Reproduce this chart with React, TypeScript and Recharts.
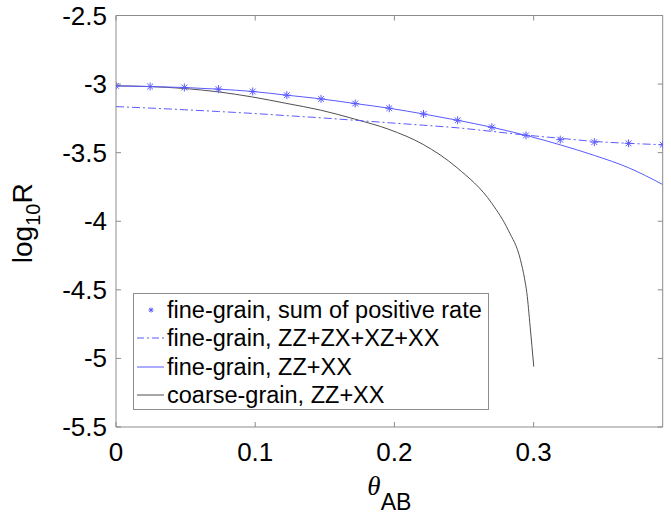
import React from 'react';
import { LineChart, Line, XAxis, YAxis, Legend } from 'recharts';

const thetaGrid = [0, 0.0245, 0.0491, 0.0736, 0.0982, 0.1227, 0.1473, 0.1718, 0.1963, 0.2209, 0.2454, 0.27, 0.2945, 0.3191, 0.3436, 0.3682, 0.3927];
const sumPositive = [-3.013, -3.018, -3.025, -3.037, -3.054, -3.081, -3.108, -3.142, -3.176, -3.218, -3.264, -3.315, -3.374, -3.405, -3.423, -3.432, -3.442];
const fineAll = [-3.164, -3.175, -3.187, -3.2, -3.214, -3.23, -3.246, -3.264, -3.282, -3.3, -3.319, -3.345, -3.372, -3.395, -3.418, -3.432, -3.442];
const fineZZXX = [-3.013, -3.018, -3.025, -3.037, -3.054, -3.081, -3.108, -3.142, -3.176, -3.218, -3.264, -3.315, -3.374, -3.443, -3.52, -3.61, -3.732];

const coarseTheta = [0, 0.024, 0.049, 0.0736, 0.098, 0.122, 0.147, 0.1714, 0.196, 0.2206, 0.245, 0.27, 0.282, 0.2905, 0.2935, 0.2951, 0.2975, 0.3001];
const coarseZZXX = [-3.013, -3.018, -3.032, -3.057, -3.094, -3.14, -3.19, -3.255, -3.33, -3.44, -3.61, -3.87, -4.07, -4.28, -4.42, -4.521, -4.77, -5.06];

const xTicks = [0, 0.1, 0.2, 0.3];
const yTicks = [-5.5, -5, -4.5, -4, -3.5, -3, -2.5];
const xDomain = [0, 0.3927];
const yDomain = [-5.5, -2.5];

const legendLabels = [
  'fine-grain, sum of positive rate',
  'fine-grain, ZZ+ZX+XZ+XX',
  'fine-grain, ZZ+XX',
  'coarse-grain, ZZ+XX',
];

const fineData = thetaGrid.map((x, i) => ({ x, sum: sumPositive[i], all: fineAll[i], zzxx: fineZZXX[i] }));
const coarseData = coarseTheta.map((x, i) => ({ x, coarse: coarseZZXX[i] }));

const FONT = '"Liberation Sans", Arial, Helvetica, sans-serif';
const AXIS_COLOR = '#8c8c8c';
const BLUE = '#5a5aff';
const BLACK_LINE = '#505050';
const TICK_LEN = 5;
const TICK_FONT = 26;
const BOTTOM_MARGIN = 16;

const LeftTick = (props: any) => {
  const { x, y, payload } = props;
  return (
    <g>
      <text x={x} y={y} textAnchor="end" dominantBaseline="central" fontFamily={FONT} fontSize={TICK_FONT} fill="#000">
        {payload.value}
      </text>
      <line x1={x + 9} x2={x + 9 + TICK_LEN} y1={y} y2={y} stroke={AXIS_COLOR} />
    </g>
  );
};

const BottomTick = (props: any) => {
  const { x, y, payload } = props;
  return (
    <g>
      <text x={x} y={y} dy="0.71em" textAnchor="middle" fontFamily={FONT} fontSize={TICK_FONT} fill="#000">
        {payload.value}
      </text>
      <line x1={x} x2={x} y1={y - BOTTOM_MARGIN} y2={y - BOTTOM_MARGIN - TICK_LEN} stroke={AXIS_COLOR} />
    </g>
  );
};

const TopTick = (props: any) => {
  const { x, y } = props;
  return <line x1={x} x2={x} y1={y} y2={y + TICK_LEN} stroke={AXIS_COLOR} />;
};

const RightTick = (props: any) => {
  const { x, y } = props;
  return <line x1={x} x2={x - TICK_LEN} y1={y} y2={y} stroke={AXIS_COLOR} />;
};

const Star = (props: any) => {
  const { cx, cy, r = 4 } = props;
  if (cx == null || cy == null) return null;
  const d = r * 0.72;
  return (
    <g stroke={BLUE} strokeWidth={1}>
      <line x1={cx - r} x2={cx + r} y1={cy} y2={cy} />
      <line x1={cx} x2={cx} y1={cy - r} y2={cy + r} />
      <line x1={cx - d} x2={cx + d} y1={cy - d} y2={cy + d} />
      <line x1={cx - d} x2={cx + d} y1={cy + d} y2={cy - d} />
    </g>
  );
};

const StarDot = (props: any) => <Star key={`s-${props.index}`} {...props} r={4} />;

const LegendBox = () => (
  <div
    style={{
      width: 356,
      height: 117,
      border: `1px solid ${AXIS_COLOR}`,
      background: '#fff',
      boxSizing: 'border-box',
      fontFamily: FONT,
      fontSize: 23.5,
      color: '#000',
      paddingTop: 2,
    }}
  >
    {legendLabels.map((label, i) => (
      <div key={label} style={{ display: 'flex', alignItems: 'center', height: 28.3, lineHeight: '28px' }}>
        <svg width={33} height={20} style={{ flex: 'none' }}>
          {i === 0 && <Star cx={17} cy={10} r={2.5} />}
          {i === 1 && <line x1={3} x2={30} y1={10} y2={10} stroke={BLUE} strokeDasharray="7 3 2 3" />}
          {i === 2 && <line x1={3} x2={30} y1={10} y2={10} stroke={BLUE} />}
          {i === 3 && <line x1={3} x2={30} y1={10} y2={10} stroke={BLACK_LINE} />}
        </svg>
        <span style={{ whiteSpace: 'nowrap' }}>{label}</span>
      </div>
    ))}
  </div>
);

const YLabel = (props: any) => {
  const { viewBox } = props;
  const cy = viewBox.y + viewBox.height / 2 + 2;
  const cx = 32;
  return (
    <text transform={`translate(${cx},${cy}) rotate(-90)`} textAnchor="middle" fontFamily={FONT} fontSize={28} fill="#000">
      <tspan>log</tspan>
      <tspan fontSize={20} dy={8}>10</tspan>
      <tspan dy={-8}>R</tspan>
    </text>
  );
};

const XLabel = (props: any) => {
  const { viewBox } = props;
  const cx = viewBox.x + viewBox.width / 2;
  const y = 495;
  return (
    <text x={cx} y={y} textAnchor="middle" fill="#000">
      <tspan fontFamily='"Liberation Serif", "Times New Roman", serif' fontStyle="italic" fontSize={27}>θ</tspan>
      <tspan fontFamily={FONT} fontSize={23} dy={15}>AB</tspan>
    </text>
  );
};

export default function App() {
  return (
    <div style={{ position: 'absolute', left: 0, top: 0, background: '#fff' }}>
      <LineChart width={671} height={515} margin={{ top: 14.5, right: 7.3, left: 56, bottom: 58 }}>
        <XAxis
          xAxisId="b"
          type="number"
          dataKey="x"
          domain={xDomain}
          allowDataOverflow
          ticks={xTicks}
          tick={<BottomTick />}
          tickSize={0}
          tickMargin={BOTTOM_MARGIN}
          tickLine={false}
          height={30}
          stroke={AXIS_COLOR}
          interval={0}
          label={<XLabel />}
        />
        <XAxis
          xAxisId="t"
          orientation="top"
          type="number"
          dataKey="x"
          domain={xDomain}
          allowDataOverflow
          ticks={xTicks}
          tick={<TopTick />}
          tickSize={0}
          tickMargin={0}
          tickLine={false}
          height={1}
          stroke={AXIS_COLOR}
          interval={0}
        />
        <YAxis
          yAxisId="l"
          type="number"
          domain={yDomain}
          allowDataOverflow
          ticks={yTicks}
          tick={<LeftTick />}
          tickSize={0}
          tickMargin={9}
          tickLine={false}
          width={60}
          stroke={AXIS_COLOR}
          interval={0}
          label={<YLabel />}
        />
        <YAxis
          yAxisId="r"
          orientation="right"
          type="number"
          domain={yDomain}
          allowDataOverflow
          ticks={yTicks}
          tick={<RightTick />}
          tickSize={0}
          tickMargin={0}
          tickLine={false}
          width={1}
          stroke={AXIS_COLOR}
          interval={0}
        />
        <Legend
          layout="vertical"
          align="center"
          verticalAlign="middle"
          wrapperStyle={{ position: 'absolute', left: 133, top: 293, width: 356, height: 117 }}
          content={<LegendBox />}
        />
        <Line
          xAxisId="b"
          yAxisId="l"
          data={coarseData}
          dataKey="coarse"
          type="monotone"
          stroke={BLACK_LINE}
          strokeWidth={1}
          dot={false}
          isAnimationActive={false}
          name={legendLabels[3]}
        />
        <Line
          xAxisId="b"
          yAxisId="l"
          data={fineData}
          dataKey="all"
          type="monotone"
          stroke={BLUE}
          strokeWidth={1}
          strokeDasharray="8 3 2 3"
          dot={false}
          isAnimationActive={false}
          name={legendLabels[1]}
        />
        <Line
          xAxisId="b"
          yAxisId="l"
          data={fineData}
          dataKey="zzxx"
          type="monotone"
          stroke={BLUE}
          strokeWidth={1}
          dot={false}
          isAnimationActive={false}
          name={legendLabels[2]}
        />
        <Line
          xAxisId="b"
          yAxisId="l"
          data={fineData}
          dataKey="sum"
          stroke="none"
          dot={<StarDot />}
          isAnimationActive={false}
          name={legendLabels[0]}
        />
      </LineChart>
    </div>
  );
}
